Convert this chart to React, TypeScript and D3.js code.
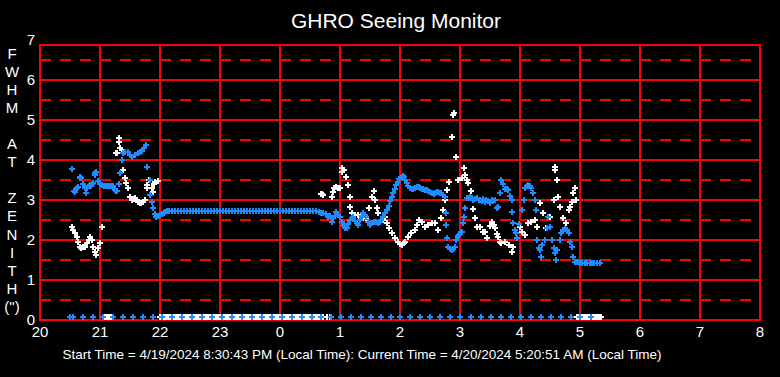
import React from "react";
import * as d3 from "d3";

// FWHM series: [hour since midnight of 4/19 (20 = 8 PM), arcsec]
const whiteSeries: [number, number][] = [
  [20.53, 2.32], [20.55, 2.25], [20.58, 2.17], [20.61, 2.07], [20.64, 1.96], [20.66, 1.83],
  [20.69, 1.79], [20.72, 1.82], [20.75, 1.83], [20.78, 1.92], [20.81, 2.0], [20.83, 2.08],
  [20.86, 2.0], [20.89, 1.83], [20.91, 1.71], [20.94, 1.63], [20.97, 1.79], [21.0, 1.92],
  [21.04, 2.33],
  [21.27, 4.17], [21.28, 4.17], [21.31, 4.54], [21.32, 4.46], [21.34, 4.3], [21.36, 4.25],
  [21.38, 3.75], [21.41, 3.54], [21.43, 3.42], [21.47, 3.29], [21.5, 3.08], [21.53, 3.0],
  [21.56, 3.02], [21.58, 3.04], [21.61, 3.0], [21.64, 2.96], [21.67, 2.92], [21.69, 2.92],
  [21.72, 2.95], [21.75, 3.0], [21.78, 3.3], [21.79, 3.38], [21.81, 3.5], [21.86, 3.3],
  [21.88, 3.21], [21.9, 3.4], [21.92, 3.46], [21.97, 3.47],
  [24.68, 3.14], [24.7, 3.14], [24.72, 3.12], [24.86, 3.08], [24.88, 3.2], [24.9, 3.29],
  [24.93, 3.33], [24.96, 3.29], [25.0, 3.3], [25.03, 3.7], [25.04, 3.79], [25.07, 3.75],
  [25.1, 3.57], [25.14, 3.38], [25.16, 3.07], [25.17, 2.83], [25.2, 2.67], [25.25, 2.63],
  [25.3, 2.63], [25.35, 2.55], [25.39, 2.54], [25.44, 2.54], [25.49, 2.79], [25.53, 3.08],
  [25.56, 3.23], [25.58, 3.0], [25.61, 2.79], [25.64, 2.67], [25.67, 2.46], [25.72, 2.5],
  [25.75, 2.58], [25.78, 2.42], [25.81, 2.29], [25.86, 2.17], [25.92, 2.04], [25.97, 1.96],
  [26.0, 1.9], [26.03, 1.88], [26.06, 1.92], [26.08, 1.96], [26.14, 2.08], [26.19, 2.17],
  [26.25, 2.25], [26.28, 2.38], [26.31, 2.5], [26.36, 2.46], [26.42, 2.33], [26.47, 2.38],
  [26.53, 2.43], [26.58, 2.42], [26.64, 2.25], [26.69, 2.54], [26.72, 2.75], [26.75, 3.0],
  [26.78, 3.25], [26.81, 3.46], [26.86, 4.58], [26.89, 5.12], [26.9, 5.17], [26.93, 4.08],
  [26.97, 3.5], [27.03, 3.55], [27.06, 3.79], [27.08, 3.62], [27.11, 3.5], [27.14, 3.42],
  [27.18, 3.23], [27.22, 2.77], [27.25, 2.54], [27.28, 2.33], [27.33, 2.33], [27.39, 2.21],
  [27.42, 2.21], [27.45, 2.05], [27.5, 2.35], [27.53, 2.46], [27.56, 2.38], [27.58, 2.29],
  [27.61, 2.15], [27.64, 2.08], [27.67, 1.95], [27.69, 1.92], [27.75, 1.96], [27.81, 1.88],
  [27.86, 1.71], [27.89, 1.83], [27.94, 2.17], [28.0, 2.33], [28.03, 2.21], [28.08, 2.13],
  [28.14, 2.42], [28.19, 2.46], [28.25, 2.5], [28.28, 2.33], [28.33, 2.92], [28.39, 2.67],
  [28.44, 2.29], [28.5, 2.58], [28.56, 3.0], [28.58, 3.83], [28.59, 3.75], [28.61, 3.5],
  [28.64, 3.08], [28.67, 2.83], [28.72, 2.54], [28.77, 2.42], [28.81, 2.75], [28.83, 2.83],
  [28.86, 2.96], [28.89, 3.17], [28.92, 3.29], [28.93, 3.0],
];

const blueSeries: [number, number][] = [
  [20.53, 3.77], [20.56, 3.22], [20.58, 3.21], [20.6, 3.27], [20.62, 3.3], [20.64, 3.33],
  [20.66, 3.55], [20.67, 3.58], [20.69, 3.54], [20.72, 3.4], [20.75, 3.3], [20.77, 3.18],
  [20.79, 3.3], [20.81, 3.35], [20.83, 3.37], [20.85, 3.35], [20.87, 3.4], [20.89, 3.42],
  [20.91, 3.62], [20.92, 3.67], [20.94, 3.71], [20.97, 3.47], [21.0, 3.4], [21.03, 3.37],
  [21.06, 3.35], [21.09, 3.35], [21.12, 3.35], [21.15, 3.35], [21.18, 3.35], [21.21, 3.35],
  [21.25, 3.25], [21.27, 3.23], [21.29, 3.22], [21.32, 3.4], [21.33, 3.67], [21.36, 4.0],
  [21.39, 4.17], [21.42, 4.2], [21.46, 4.21], [21.5, 4.12], [21.54, 4.08], [21.58, 4.12],
  [21.63, 4.17], [21.67, 4.2], [21.7, 4.23], [21.74, 4.3], [21.77, 4.38], [21.79, 3.83],
  [21.83, 3.5], [21.84, 3.13], [21.86, 2.96], [21.88, 2.79], [21.91, 2.65], [21.94, 2.58],
  [21.97, 2.6], [22.0, 2.62], [22.03, 2.66], [22.06, 2.68], [22.09, 2.71], [22.12, 2.72],
  [22.15, 2.72], [22.2, 2.72], [22.25, 2.72], [22.3, 2.72], [22.35, 2.72], [22.4, 2.72],
  [22.45, 2.72], [22.5, 2.72], [22.55, 2.72], [22.6, 2.72], [22.65, 2.72], [22.7, 2.72],
  [22.75, 2.72], [22.8, 2.72], [22.85, 2.72], [22.9, 2.72], [22.95, 2.72], [23.0, 2.72],
  [23.05, 2.72], [23.1, 2.72], [23.15, 2.72], [23.2, 2.72], [23.25, 2.72], [23.3, 2.72],
  [23.35, 2.72], [23.4, 2.72], [23.45, 2.72], [23.5, 2.72], [23.55, 2.72], [23.6, 2.72],
  [23.65, 2.72], [23.7, 2.72], [23.75, 2.72], [23.8, 2.72], [23.85, 2.72], [23.9, 2.72],
  [23.95, 2.72], [24.0, 2.72], [24.05, 2.72], [24.1, 2.72], [24.15, 2.72], [24.2, 2.72],
  [24.25, 2.72], [24.3, 2.72], [24.35, 2.72], [24.4, 2.72], [24.45, 2.72], [24.5, 2.72],
  [24.55, 2.72], [24.6, 2.72], [24.65, 2.7], [24.68, 2.67], [24.72, 2.67], [24.76, 2.66],
  [24.8, 2.58], [24.83, 2.6], [24.86, 2.45], [24.89, 2.54], [24.92, 2.6], [24.94, 2.71],
  [24.97, 2.62], [25.0, 2.58], [25.03, 2.45], [25.06, 2.35], [25.09, 2.3], [25.11, 2.29],
  [25.14, 2.4], [25.17, 2.5], [25.2, 2.55], [25.22, 2.58], [25.25, 2.48], [25.28, 2.42],
  [25.3, 2.38], [25.33, 2.5], [25.36, 2.6], [25.39, 2.67], [25.42, 2.62], [25.44, 2.58],
  [25.47, 2.46], [25.5, 2.38], [25.53, 2.42], [25.56, 2.46], [25.6, 2.45], [25.64, 2.42],
  [25.67, 2.46], [25.69, 2.5], [25.72, 2.58], [25.75, 2.67], [25.78, 2.76], [25.81, 2.85],
  [25.84, 2.97], [25.86, 3.08], [25.89, 3.18], [25.92, 3.27], [25.94, 3.37], [25.96, 3.46],
  [25.99, 3.53], [26.03, 3.58], [26.05, 3.59], [26.07, 3.57], [26.09, 3.5], [26.11, 3.42],
  [26.14, 3.35], [26.17, 3.29], [26.2, 3.27], [26.22, 3.27], [26.25, 3.3], [26.28, 3.32],
  [26.31, 3.32], [26.34, 3.3], [26.37, 3.28], [26.39, 3.27], [26.42, 3.26], [26.45, 3.24],
  [26.47, 3.23], [26.5, 3.2], [26.53, 3.17], [26.56, 3.14], [26.59, 3.17], [26.62, 3.2],
  [26.64, 3.21], [26.67, 3.18], [26.69, 3.17], [26.72, 3.12], [26.75, 3.08], [26.76, 2.67],
  [26.77, 2.38], [26.78, 2.04], [26.8, 1.83], [26.83, 1.78], [26.86, 1.75], [26.89, 1.77],
  [26.92, 1.83], [26.94, 2.0], [26.97, 2.1], [26.99, 2.13], [27.02, 2.2], [27.04, 2.21],
  [27.05, 2.42], [27.07, 2.58], [27.08, 2.79], [27.11, 3.04], [27.14, 3.05], [27.17, 3.08],
  [27.2, 3.04], [27.22, 3.0], [27.25, 3.02], [27.28, 3.04], [27.31, 3.0], [27.33, 3.0],
  [27.36, 2.98], [27.39, 3.02], [27.42, 2.95], [27.44, 3.0], [27.47, 2.98], [27.5, 2.92],
  [27.53, 3.0], [27.55, 2.98], [27.58, 3.0], [27.61, 2.79], [27.64, 2.83], [27.67, 3.17],
  [27.69, 3.5], [27.72, 3.4], [27.75, 3.28], [27.78, 3.27], [27.8, 3.25], [27.83, 3.1],
  [27.86, 3.0], [27.87, 2.71], [27.89, 2.42], [27.92, 2.25], [27.94, 2.17], [27.95, 2.04],
  [27.98, 2.4], [28.03, 2.75], [28.06, 3.0], [28.08, 3.29], [28.11, 3.35], [28.14, 3.38],
  [28.17, 3.35], [28.19, 3.29], [28.22, 3.17], [28.25, 3.0], [28.27, 2.75], [28.29, 2.0],
  [28.31, 1.8], [28.33, 1.75], [28.35, 1.58], [28.37, 1.88], [28.42, 2.0], [28.45, 2.3],
  [28.47, 2.58], [28.5, 2.33], [28.53, 2.0], [28.56, 1.8], [28.58, 1.67], [28.6, 1.5],
  [28.62, 1.75], [28.67, 2.0], [28.69, 2.17], [28.72, 2.25], [28.75, 2.28], [28.78, 2.25],
  [28.81, 2.17], [28.83, 1.96], [28.86, 1.83], [28.89, 1.58], [28.92, 1.44], [28.94, 1.45],
  [28.97, 1.44], [29.0, 1.42], [29.04, 1.42], [29.08, 1.42], [29.12, 1.42], [29.16, 1.42],
  [29.2, 1.42], [29.24, 1.42], [29.28, 1.42], [29.33, 1.42],
];

// "no reading" markers drawn on the zero line, minutes after 20:00
const whiteZeroMinutes: number[] = [
  63, 65, 67, 69, 71, 73,
  120, 122, 124, 126, 128, 130, 132, 134, 136, 138, 140, 142, 144, 146, 148, 150, 152, 154,
  156, 158, 160, 162, 164, 166, 168, 170, 172, 174, 176, 178, 180, 182, 184, 186, 188, 190,
  192, 194, 196, 198, 200, 202, 204, 206, 208, 210, 212, 214, 216, 218, 220, 222, 224, 226,
  228, 230, 232, 234, 236, 238, 240, 242, 244, 246, 248, 250, 252, 254, 256, 258, 260, 262,
  264, 266, 268, 270, 272, 274, 276, 278, 280, 283, 287, 290,
  537, 539, 541, 543, 545, 547, 549, 551, 553, 555, 557, 559, 561,
];
const blueZeroMinutes: number[] = [
  30, 33, 43, 53, 63, 73, 83, 93, 103, 113, 122, 132, 142, 152, 162, 172, 182, 192, 202, 212,
  222, 232, 242, 252, 262, 272, 281, 291, 301, 311, 321, 331, 341, 351, 360, 370, 380, 390,
  400, 410, 420, 431, 441, 451, 461, 471, 481, 491, 501, 511, 521, 531, 540, 551,
];

const hourTicks = [20, 21, 22, 23, 24, 25, 26, 27, 28, 29, 30, 31, 32];
const valueTicks = [0, 1, 2, 3, 4, 5, 6, 7];
const halfTicks = [0.5, 1.5, 2.5, 3.5, 4.5, 5.5, 6.5];
const yTitleLetters = ["F", "W", "H", "M", "", "A", "T", "", "Z", "E", "N", "I", "T", "H", "(\")"];

const TITLE = "GHRO Seeing Monitor";
const FOOTER =
  "Start Time = 4/19/2024 8:30:43 PM (Local Time): Current Time = 4/20/2024 5:20:51 AM (Local Time)";

const W = 780;
const H = 377;
const left = 40;
const right = 760;
const top = 45;
const bottom = 320;
const RED = "#ff0000";
const BLUE = "#1e8cff";
const FONT = "'Liberation Sans', Arial, sans-serif";

const x = d3.scaleLinear().domain([20, 32]).range([left, right]);
const y = d3.scaleLinear().domain([0, 7]).range([bottom, 40]);

function plus(px: number, py: number) {
  const cx = Math.round(px);
  const cy = Math.round(py);
  return `M${cx - 3},${cy}h6M${cx},${cy - 3}v6`;
}

export default function App() {
  const whitePath = whiteSeries.map(([t, v]) => plus(x(t), y(v))).join("");
  const bluePath = blueSeries.map(([t, v]) => plus(x(t), y(v))).join("");
  const wz = whiteZeroMinutes.map((m) => plus(x(20 + m / 60), y(0) - 3)).join("");
  const bz = blueZeroMinutes.map((m) => plus(x(20 + m / 60), y(0) - 3)).join("");

  return (
    <svg
      width={W}
      height={H}
      style={{ position: "absolute", left: 0, top: 0, background: "#000", display: "block" }}
    >
      <rect x={0} y={0} width={W} height={H} fill="#000" />
      <defs>
        <clipPath id="plotclip">
          <rect x={left} y={top} width={right - left} height={bottom - top} />
        </clipPath>
      </defs>
      <text x={396} y={20} fill="#fff" fontFamily={FONT} fontSize={21} textAnchor="middle" dominantBaseline="central">
        {TITLE}
      </text>
      {/* grid */}
      {halfTicks.map((v) => (
        <line key={"h" + v} x1={left} x2={right} y1={y(v)} y2={y(v)} stroke={RED} strokeWidth={2} strokeDasharray="11 9" />
      ))}
      {valueTicks.filter((v) => v > 0 && v < 7).map((v) => (
        <line key={"s" + v} x1={left} x2={right} y1={y(v)} y2={y(v)} stroke={RED} strokeWidth={2} />
      ))}
      {hourTicks.map((h) => (
        <line key={"v" + h} x1={x(h)} x2={x(h)} y1={top} y2={bottom} stroke={RED} strokeWidth={2} />
      ))}
      <rect x={left} y={top} width={right - left} height={bottom - top} fill="none" stroke={RED} strokeWidth={2} />
      {/* data */}
      <g clipPath="url(#plotclip)" fill="none" strokeWidth={1.5} shapeRendering="crispEdges">
        <path d={whitePath} stroke="#fff" />
        <path d={bluePath} stroke={BLUE} />
        <path d={wz} stroke="#fff" />
        <path d={bz} stroke={BLUE} />
      </g>
      {/* y ticks */}
      {valueTicks.map((v) => (
        <text key={"yt" + v} x={31} y={y(v) - 1} fill="#fff" fontFamily={FONT} fontSize={15} textAnchor="middle" dominantBaseline="central">
          {v}
        </text>
      ))}
      {/* x ticks */}
      {hourTicks.map((h) => (
        <text key={"xt" + h} x={x(h)} y={331} fill="#fff" fontFamily={FONT} fontSize={15} textAnchor="middle" dominantBaseline="central">
          {h % 24}
        </text>
      ))}
      {/* y title */}
      {yTitleLetters.map((c, i) => (
        <text key={"yl" + i} x={12} y={53 + i * 18.1} fill="#fff" fontFamily={FONT} fontSize={15} textAnchor="middle" dominantBaseline="central">
          {c}
        </text>
      ))}
      <text x={362} y={354} fill="#fff" fontFamily={FONT} fontSize={13.5} textAnchor="middle" dominantBaseline="central">
        {FOOTER}
      </text>
    </svg>
  );
}
